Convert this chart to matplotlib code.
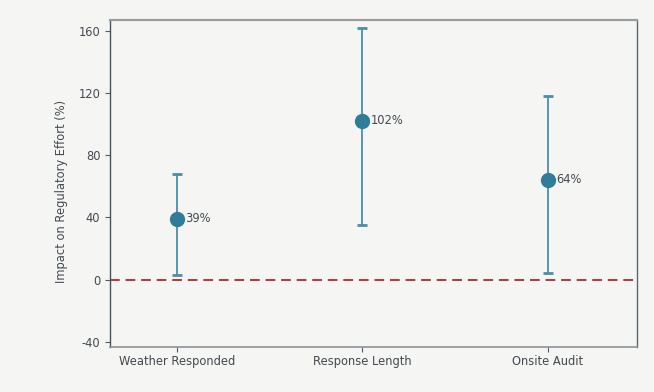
import matplotlib
matplotlib.use("Agg")
import matplotlib.pyplot as plt
import numpy as np

plt.rcParams['font.family'] = ['DejaVu Sans']
plt.rcParams['axes.unicode_minus'] = False

categories = ["Weather Responded", "Response Length", "Onsite Audit"]
effect = [39, 102, 64]
ci_low = [3, 35, 4]
ci_high = [68, 162, 118]
labels = ["39%", "102%", "64%"]
yticks = [-40, 0, 40, 80, 120, 160]

bg = "#f5f5f3"
teal = "#2f7d98"
teal_line = "#4a8ea8"
text_col = "#43494f"

fig = plt.figure(figsize=(6.54, 3.92), dpi=100, facecolor=bg)
ax = fig.add_axes([0.1682, 0.1156, 0.8053, 0.8334], facecolor=bg)

x = np.arange(len(categories))
eff = np.array(effect, dtype=float)
lo = eff - np.array(ci_low)
hi = np.array(ci_high) - eff

ax.axhline(0, color="#b5353a", lw=1.4, ls=(0, (5, 3)), zorder=1)
ax.errorbar(x, eff, yerr=[lo, hi], fmt="none", ecolor=teal_line, elinewidth=1.3,
            capsize=3.7, capthick=2, zorder=2)
ax.plot(x, eff, "o", color=teal, markersize=10, zorder=3)
for xi, yi, lab in zip(x, eff, labels):
    ax.annotate(lab, (xi, yi), xytext=(6, 0), textcoords="offset points",
                va="center", ha="left", fontsize=8.3, color=text_col)

ax.set_xlim(-0.36, 2.48)
ax.set_ylim(-43.2, 166.9)
ax.set_xticks(x)
ax.set_xticklabels(categories)
ax.set_yticks(yticks)
ax.set_ylabel("Impact on Regulatory Effort (%)", fontsize=8.3, color=text_col)
ax.yaxis.set_label_coords(-0.08, 0.475)
ax.tick_params(axis="both", labelsize=8.3, labelcolor=text_col, color="#555c63", length=3.5, width=0.8)
ax.tick_params(axis="x", pad=2.5)

ax.spines["top"].set_color("#9a9c9e")
ax.spines["top"].set_linewidth(1.6)
ax.spines["bottom"].set_color("#8c9297")
ax.spines["bottom"].set_linewidth(1.2)
ax.spines["left"].set_color("#46525c")
ax.spines["left"].set_linewidth(1.0)
ax.spines["right"].set_color("#5c666e")
ax.spines["right"].set_linewidth(1.0)

fig.savefig("out.png", dpi=100, facecolor=bg)
